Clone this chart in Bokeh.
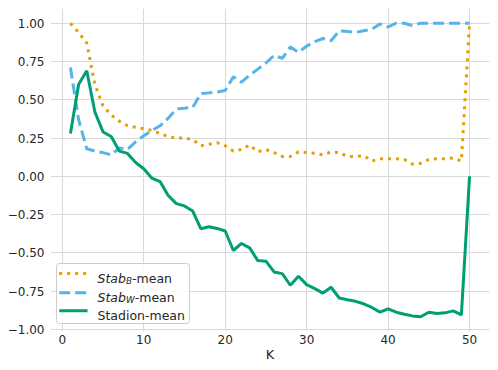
from bokeh.plotting import figure
from bokeh.models import (Range1d, FixedTicker, CustomJSTickFormatter, BoxAnnotation,
                          Arrow, Label)
from bokeh.embed import file_html
from bokeh.resources import INLINE

K = list(range(1, 51))

stab_b = [1.00, 0.94, 0.87, 0.60, 0.46, 0.40, 0.36, 0.33, 0.32, 0.31,
          0.30, 0.28, 0.26, 0.25, 0.25, 0.24, 0.20, 0.21, 0.22, 0.20,
          0.165, 0.175, 0.205, 0.16, 0.175, 0.155, 0.13, 0.13, 0.16, 0.155,
          0.15, 0.14, 0.16, 0.155, 0.13, 0.13, 0.135, 0.10, 0.115, 0.115,
          0.115, 0.11, 0.08, 0.085, 0.11, 0.115, 0.115, 0.12, 0.10, 1.00]

stab_w = [0.71, 0.37, 0.18, 0.165, 0.155, 0.14, 0.185, 0.175, 0.225, 0.265,
          0.30, 0.33, 0.38, 0.44, 0.445, 0.45, 0.54, 0.545, 0.55, 0.56,
          0.65, 0.615, 0.66, 0.70, 0.74, 0.79, 0.77, 0.845, 0.81, 0.85,
          0.88, 0.90, 0.885, 0.95, 0.945, 0.94, 0.95, 0.96, 0.995, 0.975,
          1.0, 1.0, 0.985, 1.0, 1.0, 1.0, 1.0, 1.0, 1.0, 1.0]

stadion = [0.28, 0.60, 0.69, 0.42, 0.29, 0.26, 0.165, 0.15, 0.09, 0.05,
           -0.012, -0.034, -0.125, -0.178, -0.193, -0.226, -0.342, -0.329, -0.34, -0.357,
           -0.484, -0.438, -0.467, -0.55, -0.554, -0.624, -0.635, -0.711, -0.652, -0.707,
           -0.733, -0.762, -0.724, -0.794, -0.806, -0.816, -0.832, -0.856, -0.886, -0.865,
           -0.887, -0.90, -0.911, -0.917, -0.887, -0.895, -0.891, -0.878, -0.904, 0.0]

x_ticks = [0, 10, 20, 30, 40, 50]
y_ticks = [-1.0, -0.75, -0.5, -0.25, 0.0, 0.25, 0.5, 0.75, 1.0]
x_label = "K"

ORANGE = "#E69F00"
BLUE = "#56B4E9"
GREEN = "#009E73"
TXT = "#262626"
FONT = "DejaVu Sans"

all_y = stab_b + stab_w + stadion
ymin, ymax = min(all_y), max(all_y)
ypad = (ymax - ymin) * 0.05
xpad = (max(K) - min(K)) * 0.05
x0, x1 = min(K) - xpad, max(K) + xpad
y0, y1 = ymin - ypad, ymax + ypad

p = figure(width=498, height=370, output_backend="svg", toolbar_location=None,
           x_range=Range1d(x0, x1), y_range=Range1d(y0, y1),
           min_border_left=50, min_border_right=9, min_border_top=8, min_border_bottom=39)
p.outline_line_color = None
p.background_fill_color = "white"
p.border_fill_color = "white"

p.line(K, stab_b, line_color=ORANGE, line_width=3, line_dash="3 5")
p.line(K, stab_w, line_color=BLUE, line_width=3, line_dash="11 5")
p.line(K, stadion, line_color=GREEN, line_width=3)

p.xaxis.ticker = FixedTicker(ticks=x_ticks)
p.yaxis.ticker = FixedTicker(ticks=y_ticks)
p.yaxis.formatter = CustomJSTickFormatter(code="return tick.toFixed(2).replace('-', '\u2212');")
p.xaxis.axis_label = x_label

for ax in (p.xaxis, p.yaxis):
    ax.axis_line_color = None
    ax.major_tick_line_color = None
    ax.minor_tick_line_color = None
    ax.major_tick_out = 0
    ax.major_tick_in = 0
    ax.minor_tick_out = 0
    ax.minor_tick_in = 0
    ax.major_label_text_font = FONT
    ax.major_label_text_font_size = "12px"
    ax.major_label_text_color = TXT
    ax.axis_label_text_font = FONT
    ax.axis_label_text_font_size = "13px"
    ax.axis_label_text_font_style = "normal"
    ax.axis_label_text_color = TXT
p.xaxis.major_label_standoff = 3
p.xaxis.axis_label_standoff = 0
p.yaxis.major_label_standoff = 6

p.grid.grid_line_color = "#d9d9d9"
p.grid.grid_line_width = 1

# legend (manual, screen units relative to the frame)
p.add_layout(BoxAnnotation(left=6, right=139, bottom=8, top=68,
                           left_units="screen", right_units="screen",
                           bottom_units="screen", top_units="screen",
                           fill_color="white", fill_alpha=0.85,
                           line_color="#cccccc", line_alpha=1.0, line_width=1,
                           border_radius=3, level="overlay"))

rows = [(58, ORANGE, "3 5"), (38.7, BLUE, "11 5"), (20.7, GREEN, "solid")]
for yy, col, dash in rows:
    p.add_layout(Arrow(end=None, x_start=8.7, x_end=37, y_start=yy, y_end=yy,
                       start_units="screen", end_units="screen",
                       line_color=col, line_width=3, line_dash=dash, level="overlay"))

def lab(x, y, text, size="12.5px", style="normal"):
    p.add_layout(Label(x=x, y=y, x_units="screen", y_units="screen", text=text,
                       text_font=FONT, text_font_size=size, text_font_style=style,
                       text_color=TXT, text_baseline="alphabetic", text_align="left",
                       level="overlay"))

lab(47, 53, "Stab", style="italic")
lab(75.5, 50.5, "B", size="8.75px", style="italic")
lab(81.5, 53, "-mean")
lab(47, 34.2, "Stab", style="italic")
lab(75.5, 31.7, "W", size="8.75px", style="italic")
lab(84.2, 34.2, "-mean")
lab(47, 15.7, "Stadion-mean")

open("out.html", "w").write(file_html(p, INLINE))
